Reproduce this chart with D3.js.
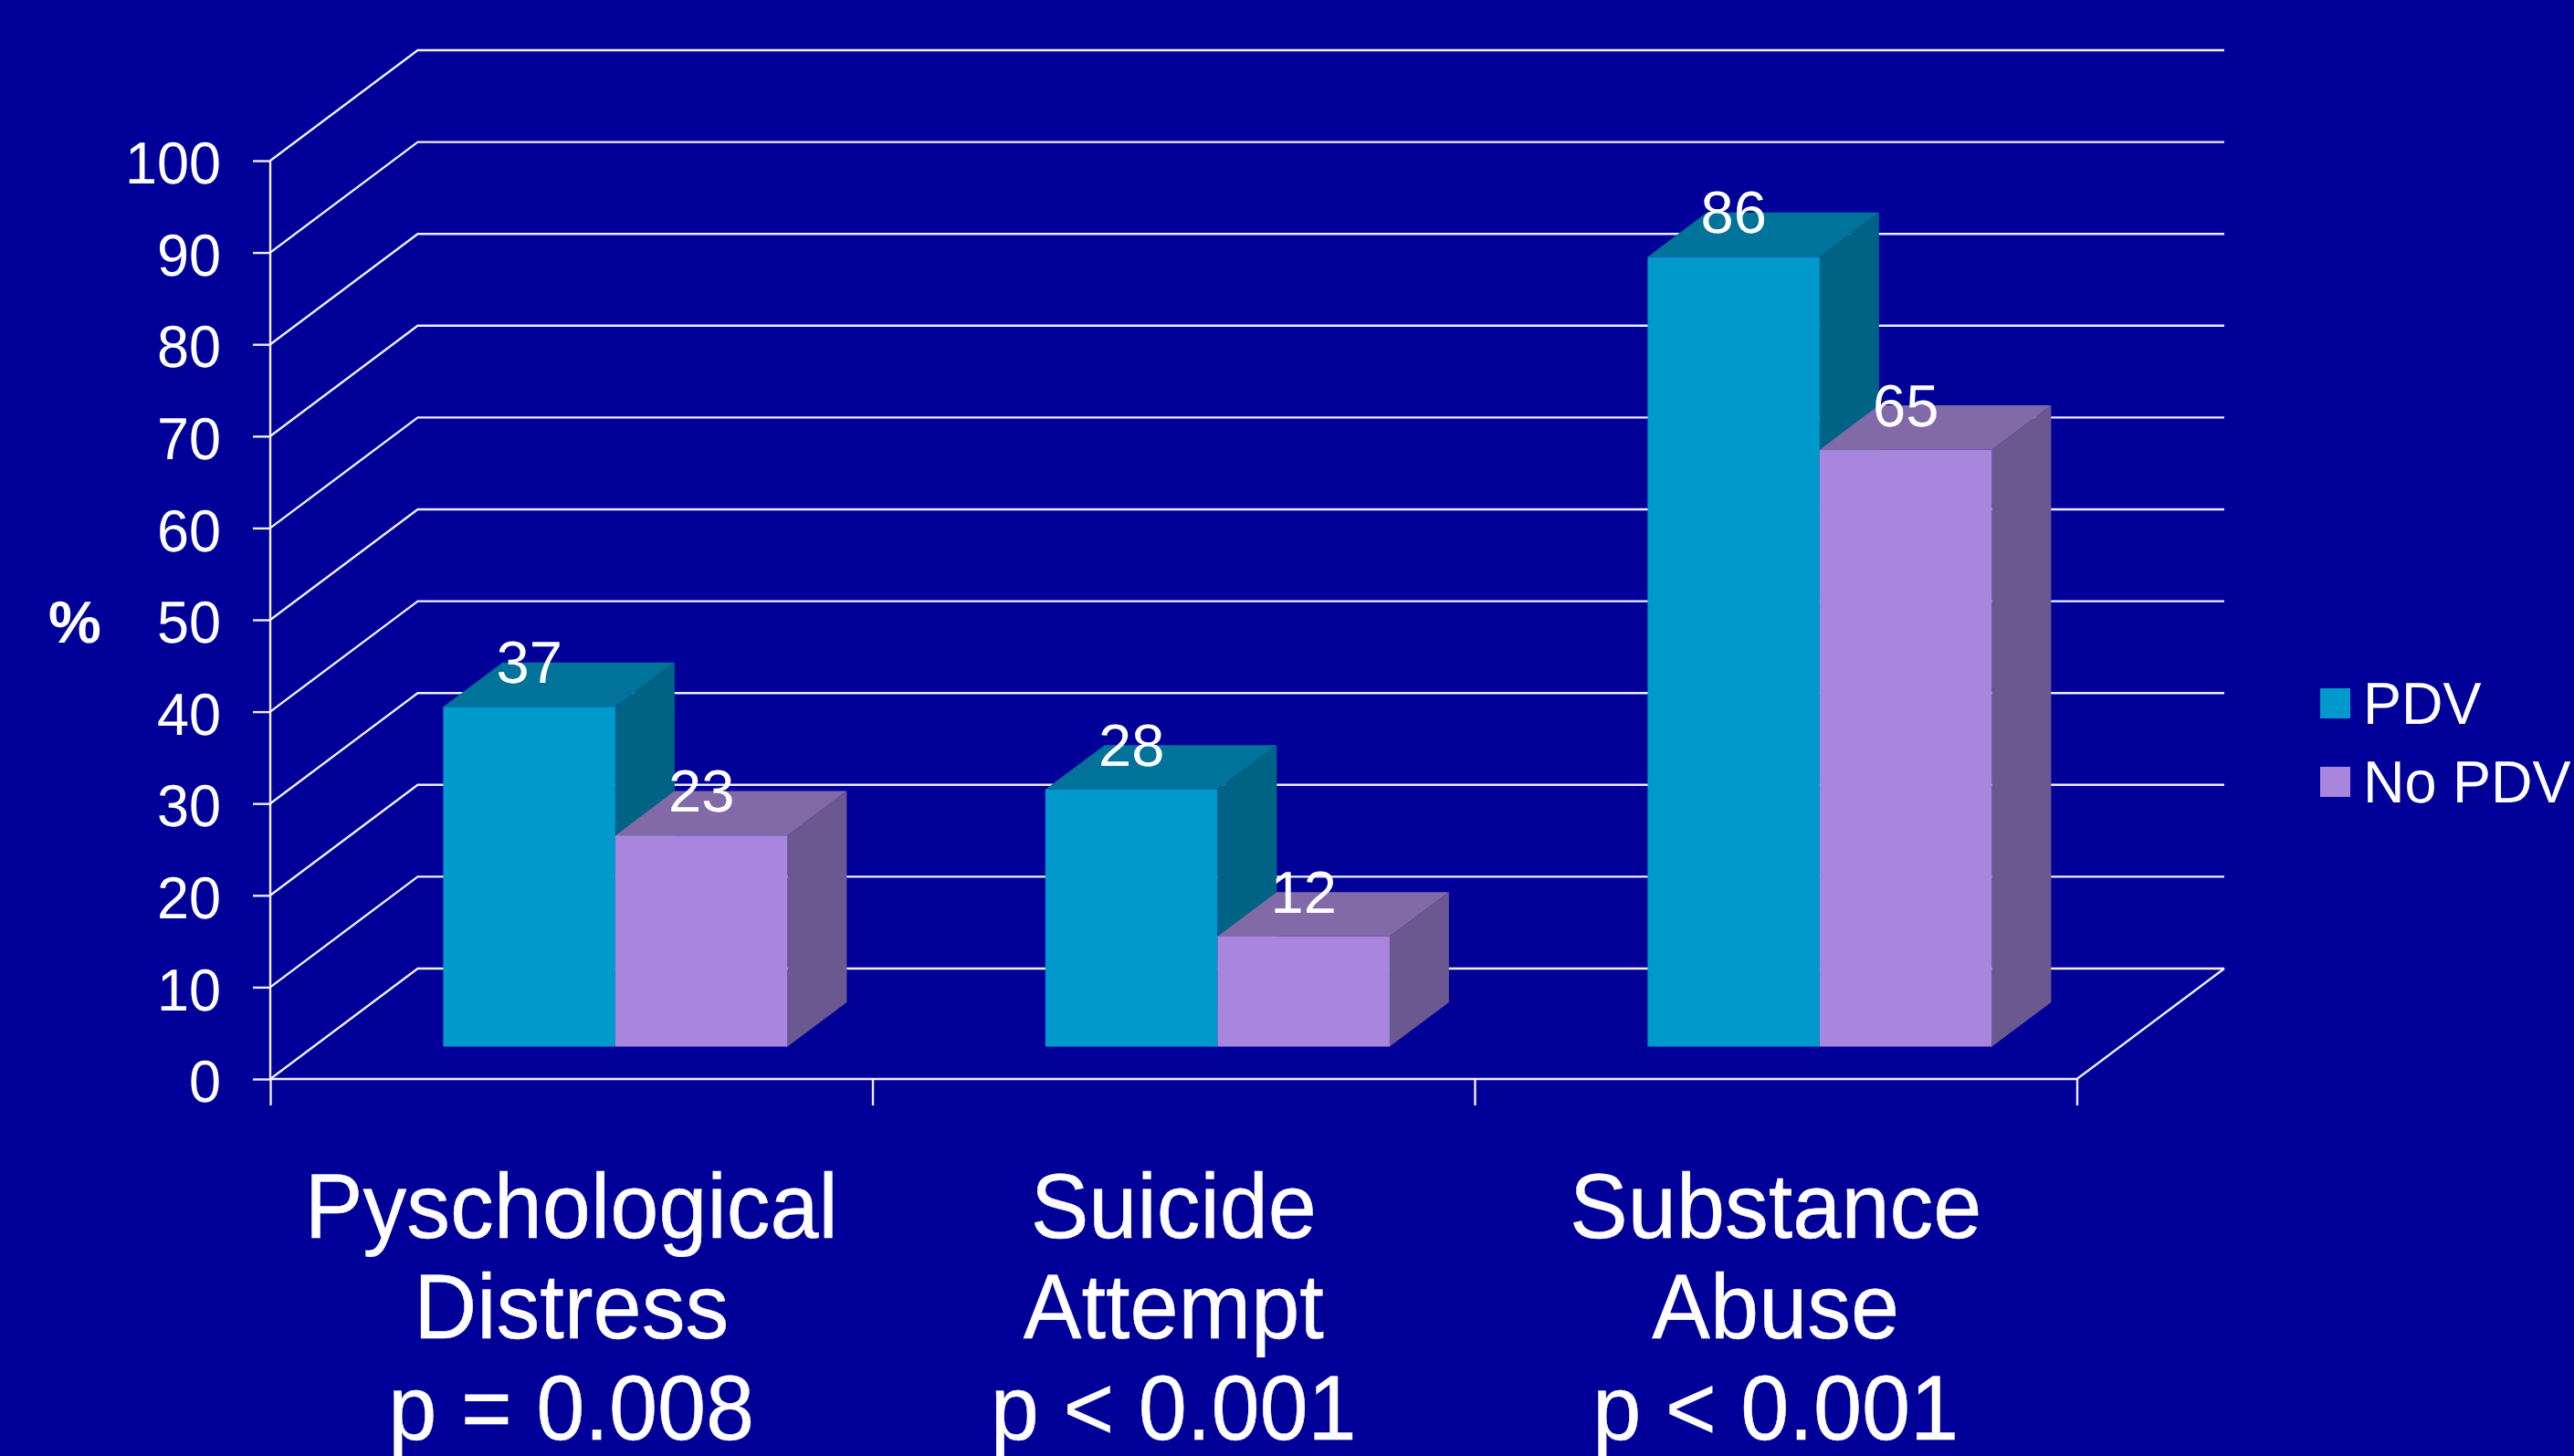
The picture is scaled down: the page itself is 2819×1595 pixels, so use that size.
<!DOCTYPE html>
<html>
<head>
<meta charset="utf-8">
<script src="https://cdn.jsdelivr.net/npm/d3@7/dist/d3.min.js"></script>
<style>
html,body{margin:0;padding:0;background:#000099;overflow:hidden}
svg{display:block}
text{font-family:"Liberation Sans",Arial,sans-serif;fill:#fff;text-rendering:geometricPrecision}
</style>
</head>
<body>
<svg id="c" width="2819" height="1595"></svg>
<script>
const categories = ["Pyschological|Distress|p = 0.008", "Suicide|Attempt|p < 0.001", "Substance|Abuse|p < 0.001"];
const seriesNames = ["PDV", "No PDV"];
const pdvValues = [37, 28, 86];
const noPdvValues = [23, 12, 65];
const yTicks = [0, 10, 20, 30, 40, 50, 60, 70, 80, 90, 100];
const seriesValues = [pdvValues, noPdvValues];
const frontColors = ["#0099CC", "#A886DE"];
const topColors = ["#00739A", "#8269A8"];
const sideColors = ["#006285", "#6C5890"];
const lineColor = "#EEEEFF";

const svg = d3.select("#c");
const x = d3.scaleBand().domain(categories).range([296, 2274.5]);
const xEdge = d3.scaleLinear().domain([0, 3]).range([296, 2274.5]);
const y = d3.scaleLinear().domain([0, 100]).range([1182, 176]);
const zx = d3.scaleLinear().domain([0, 1]).range([0, 161.5]);
const zy = d3.scaleLinear().domain([0, 1]).range([0, -121]);
const inner = d3.scaleBand().domain(seriesNames).range([0, x.bandwidth()])
  .paddingInner(0).paddingOuter(0.749).align(0.503);
const zFront = 0.293, zBack = 0.695;
const P = (px, v, z) => [px + zx(z), y(v) + zy(z)];
const poly = pts => pts.map(p => p.join(",")).join(" ");

// gridlines: wall and left floor edge
const grid = svg.append("g").attr("stroke", lineColor).attr("stroke-width", 2.4).attr("fill", "none");
grid.selectAll("polyline").data(yTicks).join("polyline")
  .attr("points", d => poly([P(x.range()[0], d, 0), P(x.range()[0], d, 1), P(x.range()[1], d, 1)]));
grid.append("polyline").attr("points", poly([P(x.range()[1], 0, 0), P(x.range()[1], 0, 1)]));

// y axis
const yAxis = svg.append("g").attr("transform", `translate(${x.range()[0]},0)`)
  .call(d3.axisLeft(y).tickValues(yTicks).tickSize(19).tickPadding(35));
yAxis.selectAll("path,line").attr("stroke", lineColor).attr("stroke-width", 2.4);
yAxis.select(".domain").attr("d", `M0,${y(100)}V${y(0)}`);
yAxis.selectAll("text").attr("font-size", 63).attr("font-family", '"Liberation Sans"')
  .attr("fill", "#fff").attr("dy", null).attr("y", 24).attr("transform", "scale(1,1.03)");

// x axis
const xAxis = svg.append("g").attr("transform", `translate(0,${y(0)})`)
  .call(d3.axisBottom(xEdge).tickValues([0, 1, 2, 3]).tickSize(29).tickFormat(""));
xAxis.selectAll("path,line").attr("stroke", lineColor).attr("stroke-width", 2.4);
xAxis.select(".domain").attr("d", `M${xEdge(0)},0H${xEdge(3)}`);

// bars
categories.forEach((cat, ci) => {
  const g = svg.append("g");
  seriesNames.forEach((s, si) => {
    const v = seriesValues[si][ci];
    const a = x(cat) + inner(s), b = a + inner.bandwidth();
    g.append("polygon").attr("fill", sideColors[si])
      .attr("points", poly([P(b, 0, zFront), P(b, 0, zBack), P(b, v, zBack), P(b, v, zFront)]));
    g.append("polygon").attr("fill", topColors[si])
      .attr("points", poly([P(a, v, zFront), P(a, v, zBack), P(b, v, zBack), P(b, v, zFront)]));
    g.append("polygon").attr("fill", frontColors[si])
      .attr("points", poly([P(a, 0, zFront), P(b, 0, zFront), P(b, v, zFront), P(a, v, zFront)]));
  });
});
// value labels
categories.forEach((cat, ci) => {
  seriesNames.forEach((s, si) => {
    const v = seriesValues[si][ci];
    const [cx, cy] = P(x(cat) + inner(s) + inner.bandwidth() / 2, v, zFront);
    svg.append("text").attr("x", cx).attr("y", cy - 26).attr("text-anchor", "middle")
      .attr("font-size", 65).text(v);
  });
});

// category labels
categories.forEach(cat => {
  cat.split("|").forEach((line, i) => {
    svg.append("text").attr("text-anchor", "middle").attr("font-size", 95.5)
      .attr("stroke", "#fff").attr("stroke-width", 0.4)
      .attr("transform", `translate(${x(cat) + x.bandwidth() / 2},${1355.7 + i * 110.5}) scale(1,1.055)`)
      .text(line);
  });
});

// y title
svg.append("text").attr("x", 82).attr("y", 703.5).attr("text-anchor", "middle")
  .attr("font-size", 65).attr("font-weight", "bold").text("%");

// legend
const legend = svg.append("g");
seriesNames.forEach((s, i) => {
  const ly = 754 + i * 86;
  legend.append("rect").attr("x", 2541).attr("y", ly).attr("width", 33).attr("height", 33).attr("fill", frontColors[i]);
  legend.append("text").attr("font-size", 63)
    .attr("transform", `translate(2588,${ly + 38.5}) scale(1,1.035)`).text(s);
});
</script>
</body>
</html>
